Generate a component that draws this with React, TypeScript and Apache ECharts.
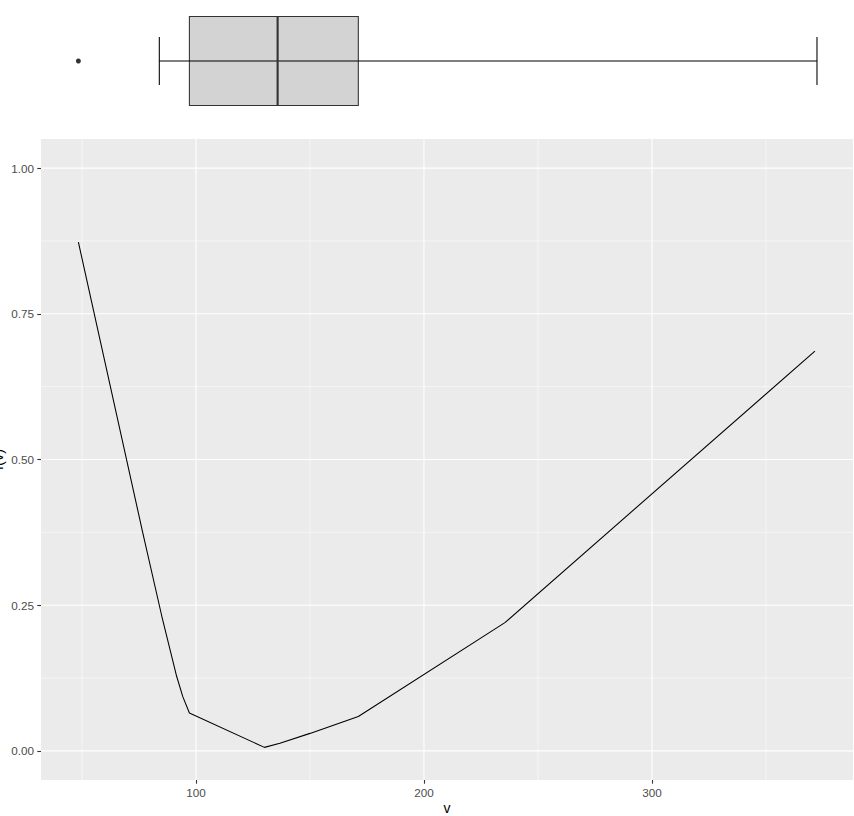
import React, { useEffect, useRef } from "react";
import * as echarts from "echarts";

// line f(v)
const vValues = [48.4, 76.6, 85.0, 91.5, 94.2, 97.1, 130.0, 136.8, 150.0, 171.2, 235.5, 371.5];
const fValues = [0.873, 0.375, 0.231, 0.128, 0.093, 0.065, 0.006, 0.013, 0.030, 0.059, 0.220, 0.686];

// boxplot stats: lower whisker, Q1, median, Q3, upper whisker
const boxStats = [83.9, 97.1, 135.8, 171.2, 372.4];
const outliers = [48.4];

const xTicks = [100, 200, 300];
const xMinor = [50, 150, 250, 350];
const yTicks = [0, 0.25, 0.5, 0.75, 1.0];
const yMinor = [0.125, 0.375, 0.625, 0.875];

const X_MIN = 32.0;
const X_MAX = 388.2;

export default function App() {
  const ref = useRef<HTMLDivElement>(null);
  useEffect(() => {
    if (!ref.current) return;
    const chart = echarts.init(ref.current, null, { renderer: "svg" });
    const font = "'Liberation Sans', Arial, sans-serif";
    const lineData = vValues.map((v, i) => [v, fValues[i]]);
    // gridline table: [axis (0 = x, 1 = y), value, major (1) / minor (0)]
    const gridData = [
      ...xMinor.map((v) => [0, v, 0]),
      ...yMinor.map((v) => [1, v, 0]),
      ...xTicks.map((v) => [0, v, 1]),
      ...yTicks.map((v) => [1, v, 1]),
    ];
    chart.setOption({
      animation: false,
      grid: [
        {
          left: 41,
          right: 1,
          top: 139,
          bottom: 36,
          show: true,
          backgroundColor: "#EBEBEB",
          borderWidth: 0,
          containLabel: false,
          outerBoundsMode: "none",
        },
        {
          left: 41,
          right: 1,
          top: 0,
          height: 122,
          show: false,
          containLabel: false,
          outerBoundsMode: "none",
        },
      ],
      xAxis: [
        {
          type: "value",
          gridIndex: 0,
          position: "bottom",
          min: X_MIN,
          max: X_MAX,
          name: "v",
          nameLocation: "middle",
          nameGap: 21,
          nameMoveOverlap: false,
          nameTextStyle: { color: "#000000", fontSize: 14, lineHeight: 13, fontFamily: font },
          axisLine: { show: false, onZero: false },
          axisTick: {
            show: true,
            customValues: xTicks,
            length: 3.7,
            lineStyle: { color: "#333333", width: 1.1 },
          },
          axisLabel: {
            customValues: xTicks,
            color: "#4D4D4D",
            fontSize: 11.7,
            fontFamily: font,
            margin: 6,
          },
          splitLine: { show: false },
        },
        {
          type: "value",
          gridIndex: 1,
          min: X_MIN,
          max: X_MAX,
          show: false,
          splitLine: { show: false },
        },
      ],
      yAxis: [
        {
          type: "value",
          gridIndex: 0,
          position: "left",
          min: -0.05,
          max: 1.05,
          name: "f(v)",
          nameLocation: "middle",
          nameGap: 36,
          nameMoveOverlap: false,
          nameTextStyle: { color: "#000000", fontSize: 14.5, fontFamily: font },
          axisLine: { show: false, onZero: false },
          axisTick: {
            show: true,
            customValues: yTicks,
            length: 3.7,
            lineStyle: { color: "#333333", width: 1.1 },
          },
          axisLabel: {
            customValues: yTicks,
            color: "#4D4D4D",
            fontSize: 11.7,
            fontFamily: font,
            margin: 7,
            formatter: (v: number) => v.toFixed(2),
          },
          splitLine: { show: false },
        },
        {
          type: "value",
          gridIndex: 1,
          min: -1,
          max: 1,
          show: false,
          splitLine: { show: false },
        },
      ],
      series: [
        {
          type: "custom",
          xAxisIndex: 0,
          yAxisIndex: 0,
          data: gridData,
          silent: true,
          z: 1,
          clip: false,
          renderItem: (params: any, api: any) => {
            const cs = params.coordSys;
            const isY = api.value(0) === 1;
            const val = api.value(1);
            const major = api.value(2) === 1;
            const style = { stroke: "#FFFFFF", lineWidth: major ? 1.1 : 0.55 };
            if (isY) {
              const p = api.coord([X_MIN, val]);
              return {
                type: "line",
                shape: { x1: cs.x, y1: p[1], x2: cs.x + cs.width, y2: p[1] },
                style,
              };
            }
            const p = api.coord([val, 0]);
            return {
              type: "line",
              shape: { x1: p[0], y1: cs.y, x2: p[0], y2: cs.y + cs.height },
              style,
            };
          },
        },
        {
          type: "line",
          xAxisIndex: 0,
          yAxisIndex: 0,
          data: lineData,
          showSymbol: false,
          silent: true,
          z: 5,
          lineStyle: { color: "#000000", width: 1.07 },
        },
        {
          type: "custom",
          xAxisIndex: 1,
          yAxisIndex: 1,
          data: [boxStats],
          silent: true,
          z: 3,
          renderItem: (params: any, api: any) => {
            const lo = api.coord([api.value(0), 0]);
            const q1 = api.coord([api.value(1), 0]);
            const med = api.coord([api.value(2), 0]);
            const q3 = api.coord([api.value(3), 0]);
            const hi = api.coord([api.value(4), 0]);
            const cy = lo[1];
            const bh = 44.5;
            const ch = 24;
            return {
              type: "group",
              children: [
                {
                  type: "rect",
                  shape: { x: q1[0], y: cy - bh, width: q3[0] - q1[0], height: bh * 2 },
                  style: { fill: "#D3D3D3", stroke: "#333333", lineWidth: 1.07 },
                },
                {
                  type: "line",
                  shape: { x1: lo[0], y1: cy, x2: hi[0], y2: cy },
                  style: { stroke: "#000000", lineWidth: 1.07 },
                },
                {
                  type: "line",
                  shape: { x1: lo[0], y1: cy - ch, x2: lo[0], y2: cy + ch },
                  style: { stroke: "#000000", lineWidth: 1.07 },
                },
                {
                  type: "line",
                  shape: { x1: hi[0], y1: cy - ch, x2: hi[0], y2: cy + ch },
                  style: { stroke: "#000000", lineWidth: 1.07 },
                },
                {
                  type: "line",
                  shape: { x1: med[0], y1: cy - bh, x2: med[0], y2: cy + bh },
                  style: { stroke: "#333333", lineWidth: 2.1 },
                },
              ],
            };
          },
        },
        {
          type: "scatter",
          xAxisIndex: 1,
          yAxisIndex: 1,
          data: outliers.map((v) => [v, 0]),
          symbol: "circle",
          symbolSize: 5,
          silent: true,
          itemStyle: { color: "#000000" },
        },
      ],
    });
    return () => chart.dispose();
  }, []);
  return <div ref={ref} style={{ width: 854, height: 816, position: "absolute", left: 0, top: 0 }} />;
}
